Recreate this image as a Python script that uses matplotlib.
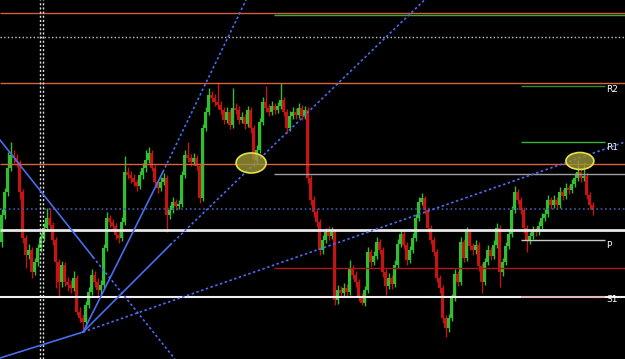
import matplotlib
matplotlib.use("Agg")
import matplotlib.pyplot as plt
from matplotlib.patches import Ellipse

# price in chart points, one candle per bar
closes = [144, 167, 191, 204, 201, 197, 167, 121, 104, 109, 87, 97, 111, 121, 131, 141, 134, 119, 97, 77,
          94, 77, 74, 71, 81, 47, 41, 37, 54, 67, 84, 77, 69, 74, 111, 141, 137, 133, 124, 121,
          137, 187, 184, 181, 177, 173, 184, 191, 199, 206, 191, 177, 171, 177, 181, 144, 149, 157, 153, 155,
          184, 204, 201, 197, 201, 193, 161, 231, 247, 264, 261, 257, 254, 249, 239, 247, 234, 251, 249, 239,
          242, 235, 249, 231, 199, 209, 237, 257, 251, 247, 253, 249, 253, 259, 247, 231, 243, 247, 244, 251,
          243, 249, 181, 159, 147, 137, 109, 119, 127, 123, 127, 59, 69, 66, 71, 67, 91, 84, 77, 63,
          56, 69, 107, 97, 103, 117, 109, 87, 73, 81, 75, 94, 115, 125, 114, 99, 109, 121, 141, 157,
          161, 149, 131, 119, 107, 81, 71, 41, 31, 41, 61, 85, 77, 117, 101, 127, 113, 109, 114, 93,
          77, 97, 109, 103, 114, 131, 87, 97, 113, 125, 149, 167, 159, 149, 131, 119, 123, 129, 127, 133,
          141, 145, 159, 154, 159, 154, 167, 163, 171, 169, 175, 181, 187, 181, 183, 164, 154, 149]
highs = [150, 171, 207, 217, 209, 205, 199, 170, 124, 115, 112, 101, 115, 126, 136, 151, 151, 137, 122, 100,
         98, 97, 82, 79, 88, 84, 52, 45, 58, 72, 90, 88, 81, 79, 115, 147, 144, 140, 136, 128,
         142, 203, 192, 188, 185, 180, 188, 196, 209, 212, 209, 194, 180, 182, 186, 184, 154, 162, 160, 159,
         188, 209, 217, 205, 206, 204, 196, 235, 252, 271, 268, 265, 277, 258, 252, 252, 250, 271, 256, 253,
         247, 245, 253, 252, 234, 214, 241, 262, 273, 255, 258, 256, 257, 276, 262, 250, 248, 252, 251, 256,
         254, 253, 252, 184, 163, 151, 140, 124, 131, 133, 132, 130, 74, 73, 76, 75, 99, 94, 88, 80,
         66, 73, 112, 110, 108, 122, 120, 112, 90, 86, 84, 99, 120, 130, 128, 117, 113, 126, 145, 162,
         166, 163, 152, 134, 122, 110, 84, 74, 44, 45, 65, 90, 88, 122, 120, 132, 130, 116, 119, 117,
         96, 101, 114, 112, 119, 136, 134, 101, 117, 130, 153, 173, 170, 162, 152, 134, 127, 133, 132, 138,
         146, 150, 164, 162, 164, 162, 172, 170, 176, 174, 180, 186, 199, 190, 197, 186, 167, 157]
lows = [112, 140, 163, 188, 196, 192, 160, 116, 91, 100, 81, 84, 93, 107, 118, 128, 130, 114, 71, 62,
        72, 73, 68, 66, 68, 44, 37, 28, 33, 51, 64, 72, 63, 65, 71, 108, 132, 129, 120, 116,
        118, 134, 180, 176, 173, 168, 170, 180, 187, 196, 188, 172, 166, 168, 174, 127, 140, 146, 149, 150,
        152, 181, 197, 193, 194, 189, 156, 158, 228, 244, 257, 253, 250, 245, 235, 236, 230, 231, 245, 235,
        236, 230, 232, 226, 192, 195, 206, 234, 247, 243, 244, 245, 246, 250, 243, 226, 228, 240, 240, 241,
        239, 240, 176, 154, 142, 132, 104, 105, 116, 119, 120, 54, 55, 62, 63, 63, 64, 80, 72, 58,
        54, 53, 66, 92, 94, 100, 105, 82, 64, 70, 70, 72, 91, 112, 110, 94, 96, 106, 118, 138,
        154, 145, 127, 115, 103, 77, 66, 36, 22, 27, 38, 58, 73, 74, 97, 98, 109, 104, 105, 88,
        66, 74, 94, 99, 100, 111, 72, 83, 94, 110, 122, 146, 155, 145, 126, 107, 115, 120, 123, 124,
        130, 138, 142, 150, 151, 150, 151, 159, 160, 165, 166, 172, 178, 177, 178, 160, 150, 144]
first_open = 117

# horizontal levels: (price, start bar, end bar, colour, width, style)
levels = [
    (346, -0.5, 208, "#d2603c", 1.0, "-"),
    (344, 90.8, 208, "#3ea83e", 1.0, "-"),
    (322, -0.5, 208, "#c8c8c8", 1.0, ":"),
    (276, -0.5, 208, "#d8643c", 1.0, "-"),
    (273, 173.2, 201.2, "#2e8b2e", 1.0, "-"),
    (217, 173.2, 201.2, "#3cb43c", 1.0, "-"),
    (195, -0.5, 208, "#d8643c", 1.0, "-"),
    (185, 90.8, 208, "#a0a0a0", 1.0, "-"),
    (150, -0.5, 208, "#4058a8", 1.2, ":"),
    (129, -0.5, 208, "#e8e8e8", 2.0, "-"),
    (119, 173.2, 201.2, "#c8c8c8", 1.0, "-"),
    (91, 90.8, 208, "#b01818", 1.0, "-"),
    (62, -0.5, 208, "#f0f0f0", 1.5, "-"),
    (62, 173.2, 201.2, "#e0b0b0", 1.2, "-"),
]
pivot_labels = ["R2", "R1", "P", "S1"]
pivot_label_prices = [269, 212, 113, 59]

# trend lines: solid part then dotted extension
pivot = (27.2, 27)
trend_solid = [((-0.5, 219), (30.5, 102)), ((-0.5, 1), pivot), (pivot, (56.2, 114)), (pivot, (53.8, 187))]
trend_dotted = [((30.5, 102), (57.8, 0)), (pivot, (207.8, 217)), ((56.2, 114), (141, 359)), ((53.8, 187), (81.5, 359))]

fig = plt.figure(figsize=(6.25, 3.59), dpi=100, facecolor="black")
ax = fig.add_axes([0, 0, 1, 1])
ax.set_facecolor("black")

opens = [first_open] + closes[:-1]
for i in range(len(closes)):
    o, c = opens[i], closes[i]
    col = "#2fbf2f" if c >= o else "#c41414"
    ax.vlines(i, lows[i], highs[i], color=col, lw=1, zorder=2)
    ax.bar(i, max(abs(c - o), 1), bottom=min(o, c), width=0.7, color=col, lw=0, zorder=2)

for price, x0, x1, col, lw, ls in levels:
    ax.hlines(price, x0, x1, colors=col, lw=lw, linestyles=ls, zorder=3)

for lab, p in zip(pivot_labels, pivot_label_prices):
    ax.text(201.6, p, lab, color="white", fontsize=6.5, va="center", ha="left", zorder=5)

for x in [12.85, 13.85]:
    ax.axvline(x, color="#e0e0e0", lw=1, linestyle=(0, (1.5, 1.5)), zorder=3)

for (x0, y0), (x1, y1) in trend_solid:
    ax.plot([x0, x1], [y0, y1], color="#4a6cf0", lw=1.2, zorder=4)
for (x0, y0), (x1, y1) in trend_dotted:
    ax.plot([x0, x1], [y0, y1], color="#4a6cf0", lw=1.2, linestyle=(0, (1.5, 1.5)), zorder=4)

ax.add_patch(Ellipse((83.2, 196), 10, 20, facecolor=(0.6, 0.58, 0.22, 0.8), edgecolor="#e6e04a", lw=1.2, zorder=5))
ax.add_patch(Ellipse((192.8, 198), 9.3, 17, facecolor=(0.6, 0.58, 0.22, 0.8), edgecolor="#e6e04a", lw=1.2, zorder=5))

ax.set_xlim(-0.5, 207.83)
ax.set_ylim(0, 359)
ax.axis("off")
fig.savefig("out.png", dpi=100, facecolor="black")
